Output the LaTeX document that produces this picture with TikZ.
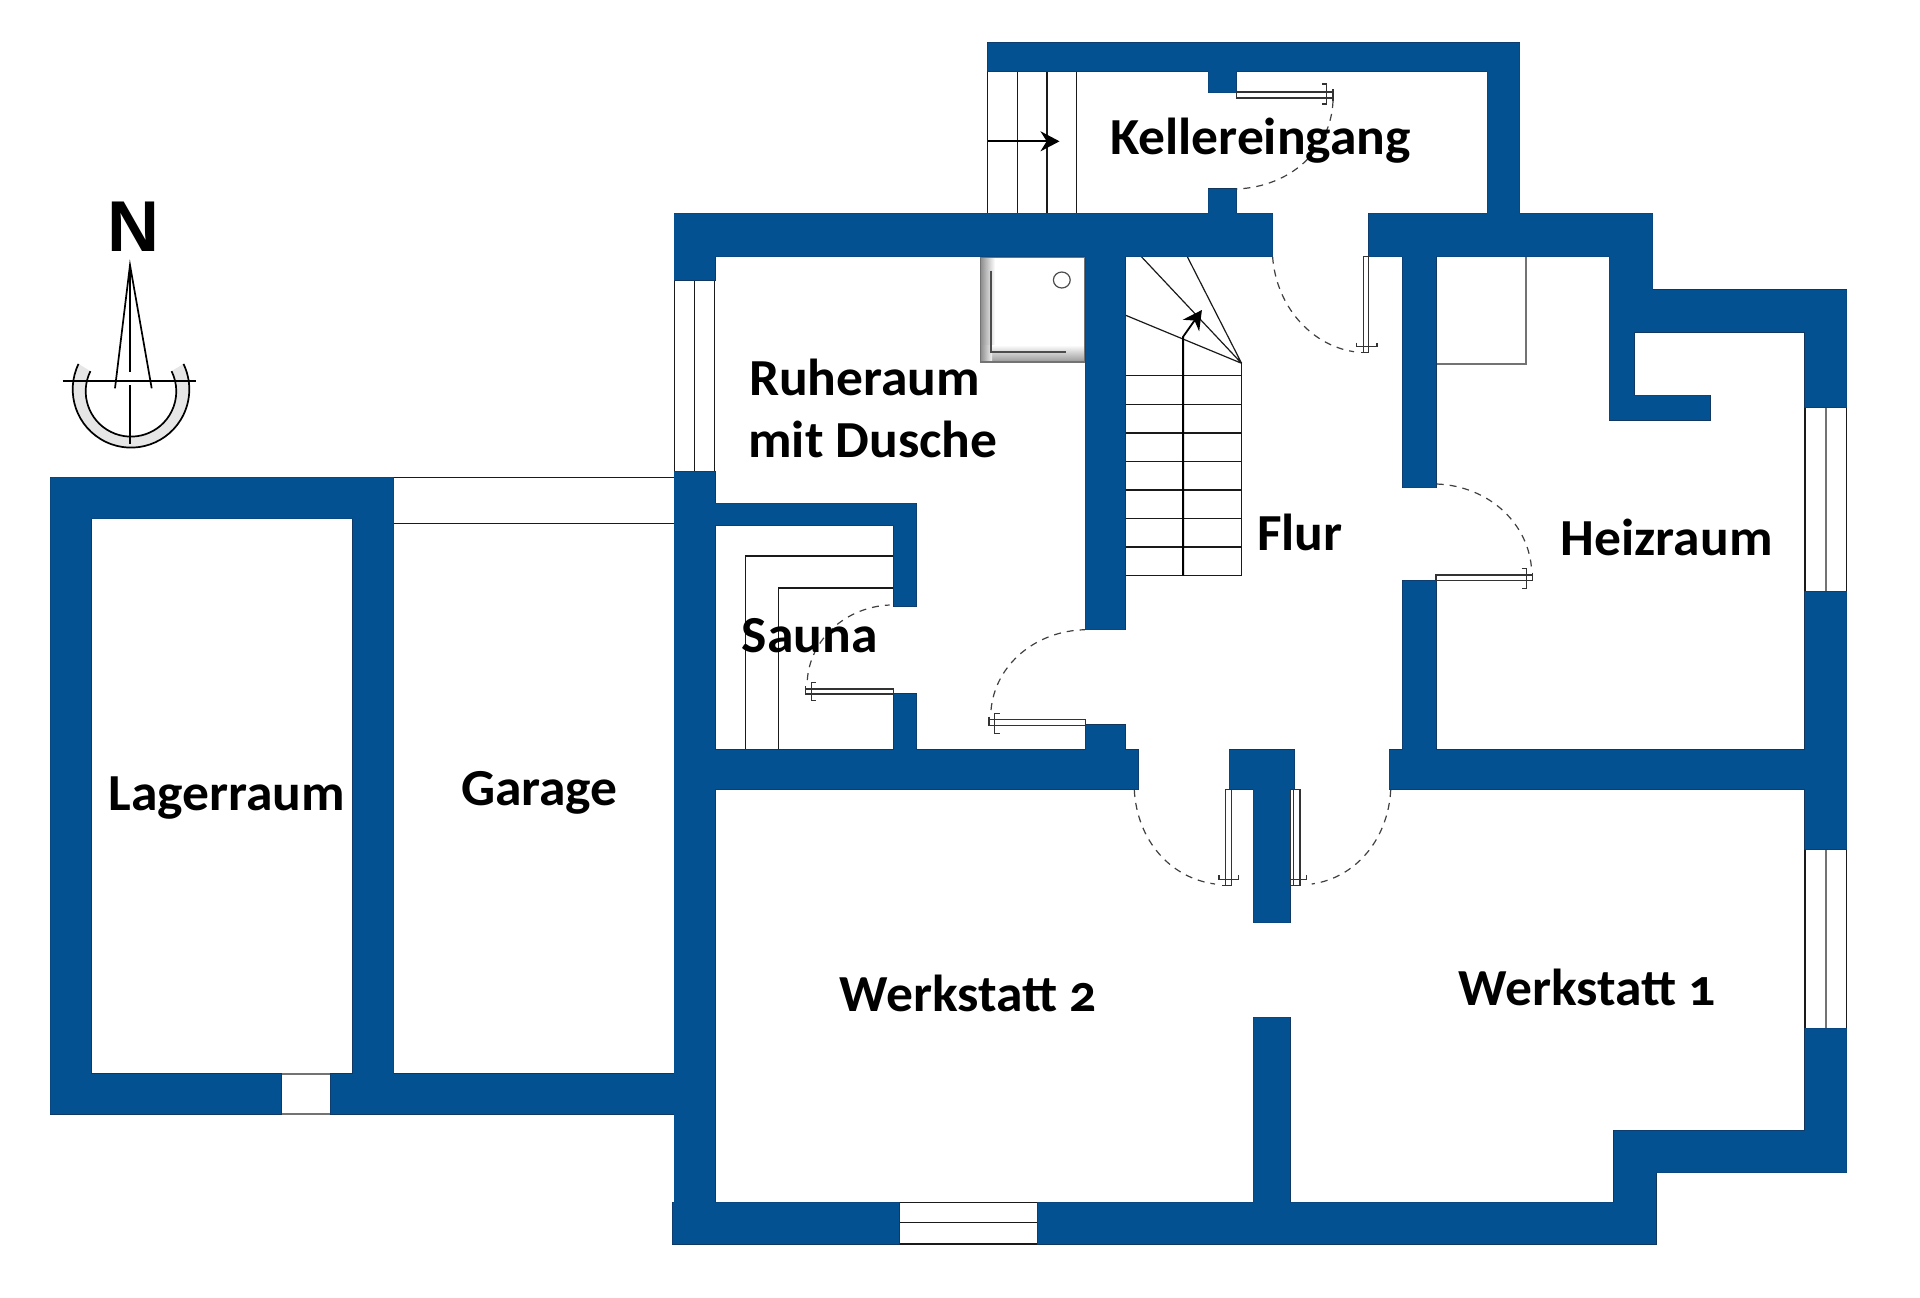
\documentclass[tikz,border=0pt]{standalone}
\usepackage{fontspec}
\setmainfont[Numbers=OldStyle,FakeStretch=1.03]{Carlito}
\newfontfamily\northfont{Liberation Sans}
\usetikzlibrary{arrows.meta}
\definecolor{wallblue}{HTML}{045192}
\definecolor{walledge}{HTML}{12355C}
\definecolor{inkdark}{HTML}{1A1A1A}
\definecolor{bandgray}{HTML}{E6E6E6}
\tikzset{
  wallline/.style={draw=walledge,line width=0.7pt},
  wallfill/.style={fill=wallblue},
  thinline/.style={draw=inkdark,line width=0.6pt},
  grayline/.style={draw=black!55,line width=0.8pt},
  swing/.style={draw=black!75,line width=0.6pt,dash pattern=on 3.5pt off 3pt},
  leaf/.style={draw=black!80,fill=white,line width=0.6pt},
  mark line/.style={draw=black!80,line width=0.6pt},
  roomlabel/.style={anchor=base west,inner sep=0pt,outer sep=0pt,font=\fontsize{26}{26}\selectfont\bfseries,text=black},
  compass/.style={draw=black,line width=0.85pt},
  tip/.style={-{Stealth[length=9.5pt,width=10pt]},draw=black,line width=0.9pt},
}
\def\wallshape{
  (987.5,42.7) rectangle (1519.5,71.3)
  (1487.3,42.7) rectangle (1519.5,213.3)
  (1208.3,71.3) rectangle (1236.3,92.7)
  (1208.3,189) rectangle (1236.3,213.3)
  (674.2,213.3) rectangle (1272.6,256.7)
  (1368.7,213.3) rectangle (1652.7,256.7)
  (674.2,213.3) rectangle (715,280)
  (1085.3,256.7) rectangle (1125,629.7)
  (1402.7,256.7) rectangle (1436,487.7)
  (1402.7,580.7) rectangle (1436,750)
  (1389.3,750) rectangle (1805,789.3)
  (1609.3,256.7) rectangle (1634,420)
  (1609.3,395.3) rectangle (1710,420)
  (1609.3,290) rectangle (1846.7,332)
  (1609.3,256.7) rectangle (1652.7,332)
  (1805,290) rectangle (1846.7,407.3)
  (1805,591.7) rectangle (1846.7,849.3)
  (1805,1028.3) rectangle (1846.7,1172.7)
  (1614.1,1130.7) rectangle (1846.7,1172.7)
  (1614.1,1130.7) rectangle (1655.8,1244)
  (672.7,1202.3) rectangle (899,1244)
  (1037.7,1202.3) rectangle (1655.8,1244)
  (674.2,471.7) rectangle (715,1202.3)
  (715,503.3) rectangle (916.4,525.3)
  (893.8,503.3) rectangle (916.4,606.3)
  (893.8,694) rectangle (916.4,750)
  (715,750) rectangle (1138.3,789.3)
  (1085.5,725) rectangle (1125,750)
  (1229.3,750) rectangle (1294.3,789.3)
  (1253.3,789.3) rectangle (1290.2,922.7)
  (1253.3,1017.3) rectangle (1290.2,1202.3)
  (50.4,477.3) rectangle (393.5,518.7)
  (50.4,477.3) rectangle (91.1,1114)
  (352.8,477.3) rectangle (393.5,1114)
  (50.4,1074) rectangle (281,1114)
  (330.7,1074) rectangle (674.2,1114)
}
\begin{document}
\begin{tikzpicture}[x=0.5pt,y=-0.5pt]
\useasboundingbox (0,0) rectangle (1920,1297);
\fill[white] (0,0) rectangle (1920,1297);

% shower tray
\shade[left color=black!45,right color=white] (980.3,256.7) rectangle (995,361.7);
\shade[top color=white,bottom color=black!40] (990,345) rectangle (1084.8,361.7);
\shade[left color=black!45,right color=black!5] (980.3,345) rectangle (992,361.7);
\draw[grayline] (980.3,256.7) rectangle (1084.8,361.7);
\draw[draw=black!70,line width=1pt] (990.6,270.7) -- (990.6,351.7) -- (1065.6,351.7);
\draw[draw=black!70,line width=0.6pt] (1061.8,280) circle[x radius=8.4,y radius=8];

% outer stairs
\draw[thinline] (1017.4,71.3) -- (1017.4,213.3) (1046.9,71.3) -- (1046.9,213.3) (1076.3,71.3) -- (1076.3,213.3) (987.5,71.3) -- (987.5,213.3);
\draw[tip] (987.5,141.3) -- (1059.5,141.3);

% inner stairs
\foreach \yy in {375.7,404.3,433,461.3,490,518.3,547,575.3}
  \draw[thinline] (1125,\yy) -- (1241.6,\yy);
\draw[thinline] (1241.6,363.3) -- (1241.6,575.3);
\draw[thinline] (1241.6,363.3) -- (1125,315) (1241.6,363.3) -- (1141.4,256.7) (1241.6,363.3) -- (1187.3,256.7);
\draw[tip] (1183.1,575.3) -- (1183.1,336.7) -- (1201.9,310);

% sauna benches
\draw[thinline] (745.3,750) -- (745.3,556) -- (893.8,556);
\draw[thinline] (778.6,750) -- (778.6,588) -- (893.8,588);

% boiler box
\draw[grayline] (1436,363.7) -- (1526,363.7) -- (1526,256.7);

% garage roof lines
\draw[thinline] (393.5,477.3) -- (674.2,477.3) (393.5,523.5) -- (674.2,523.5);

% windows
\draw[thinline] (674.2,280) rectangle (714.6,471.7);
\draw[thinline] (694.4,280) -- (694.4,471.7);
\draw[thinline] (1805,407.3) rectangle (1846.7,591.7);
\draw[grayline] (1826,407.3) -- (1826,591.7);
\draw[thinline] (1805,849.3) rectangle (1846.7,1028.3);
\draw[grayline] (1826,849.3) -- (1826,1028.3);
\draw[thinline] (899,1202.3) rectangle (1037.7,1244);
\draw[thinline] (899,1222.7) -- (1037.7,1222.7);
\draw[grayline] (281,1074) rectangle (330.7,1114);

% walls
\path[wallline] \wallshape;
\path[wallfill] \wallshape;

% door: Kellereingang
\draw[leaf] (1236.3,92) rectangle (1333,98);
\draw[mark line] (1322.4,84) -- (1326.6,84) -- (1326.6,104) -- (1322.4,104);
\draw[mark line] (1333,89) -- (1333,101);
\draw[swing] (1333,101) .. controls (1331,150) and (1290,187) .. (1236.3,189);
% door: Flur to entrance
\draw[leaf] (1363.3,256.7) rectangle (1368.7,352.7);
\draw[mark line] (1356.8,342.7) -- (1356.8,346.7) -- (1377,346.7) -- (1377,342.7);
\draw[mark line] (1361,352.7) -- (1368.7,352.7);
\draw[swing] (1272.6,256.7) .. controls (1276,305) and (1310,345) .. (1354,351.7);
% door: Heizraum
\draw[leaf] (1436,575) rectangle (1532.3,580.7);
\draw[mark line] (1521.7,568.7) -- (1526.7,568.7) -- (1526.7,588.3) -- (1521.7,588.3);
\draw[mark line] (1532.3,572.7) -- (1532.3,581);
\draw[swing] (1436.7,484) .. controls (1490,486) and (1530,525) .. (1531.7,571.7);
% door: Sauna
\draw[leaf] (805.8,689) rectangle (893.8,694);
\draw[mark line] (815.7,682.7) -- (811.5,682.7) -- (811.5,700.7) -- (815.7,700.7);
\draw[mark line] (805.8,686) -- (805.8,694);
\draw[swing] (807.3,680) .. controls (810,640) and (845,607) .. (889.6,605);
% door: Ruheraum
\draw[leaf] (989,719.3) rectangle (1085.5,725.3);
\draw[mark line] (999.8,713.3) -- (994.8,713.3) -- (994.8,733.3) -- (999.8,733.3);
\draw[mark line] (989,716.7) -- (989,725.3);
\draw[swing] (991,710) .. controls (995,665) and (1035,631) .. (1084.8,629.7);
% door: Werkstatt 2
\draw[leaf] (1225.3,789.3) rectangle (1231.3,885.7);
\draw[mark line] (1219,875.3) -- (1219,879.3) -- (1238.3,879.3) -- (1238.3,875.3);
\draw[mark line] (1222.3,885.7) -- (1231.3,885.7);
\draw[swing] (1134.3,790) .. controls (1137,840) and (1170,878) .. (1215,884);
% door: Werkstatt 1
\draw[leaf] (1290.2,789.3) rectangle (1300,885.7);
\draw[mark line] (1293.7,789.3) -- (1293.7,885.7);
\draw[mark line] (1290.2,875.3) -- (1290.2,879.3) -- (1306.7,879.3) -- (1306.7,875.3);
\draw[swing] (1390.7,790) .. controls (1388,840) and (1355,878) .. (1311.7,884);

% north symbol
\path (131,391.3) ++(26.4:22.65pt) coordinate (innerend);
\fill[bandgray] (131,389.3) ++(154.2:29.15pt) arc[start angle=154.2,end angle=385.8,radius=29.15pt]
  -- (innerend) arc[start angle=386.4,end angle=153.6,radius=22.65pt] -- cycle;
\draw[compass] (131,389.3) ++(154.2:29.15pt) arc[start angle=154.2,end angle=385.8,radius=29.15pt];
\draw[compass] (131,391.3) ++(153.6:22.65pt) arc[start angle=153.6,end angle=386.4,radius=22.65pt];
\draw[compass] (62.7,381.3) -- (196,381.3);
\draw[compass,line join=miter] (115,388.3) -- (130,265) -- (151.7,388.3);
\draw[compass] (130,265) -- (130,372.3);
\draw[compass] (130.3,385) -- (130.3,444.3);
\node[anchor=base west,inner sep=0pt,text=black] (north) at (107.5,251.7) {\northfont\fontsize{36}{36}\selectfont\bfseries N};

% room labels
\node[roomlabel] (keller) at (1110,154) {Kellereingang};
\node[roomlabel] (ruhe1) at (749,395.5) {Ruheraum};
\node[roomlabel] (ruhe2) at (748.3,457.2) {mit Dusche};
\node[roomlabel] (sauna) at (741.7,652.2) {Sauna};
\node[roomlabel] (flur) at (1257,550) {Flur};
\node[roomlabel] (heiz) at (1560.7,555) {Heizraum};
\node[roomlabel] (lager) at (108.5,810) {Lagerraum};
\node[roomlabel] (garage) at (461,805.5) {Garage};
\node[roomlabel] (werk2) at (839.5,1011.5) {Werkstatt 2};
\node[roomlabel] (werk1) at (1458.9,1005.5) {Werkstatt 1};
\end{tikzpicture}
\end{document}
